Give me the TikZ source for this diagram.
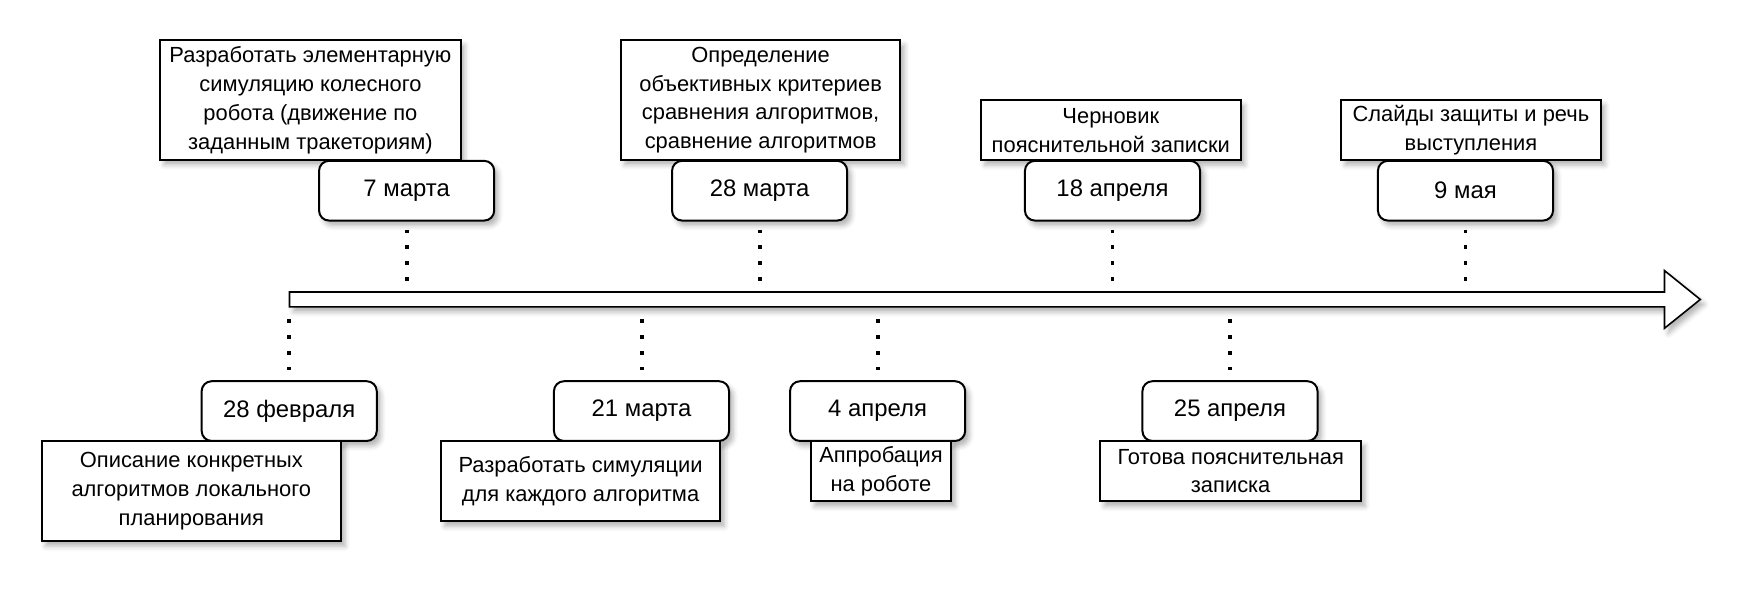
\documentclass[tikz,border=0pt]{standalone}
\usepackage{fontspec}
\setmainfont{Liberation Sans}
\usetikzlibrary{shadows.blur}
\begin{document}
\begin{tikzpicture}[x=0.5pt,y=-0.5pt,
  shad/.style={blur shadow={shadow xshift=2pt,shadow yshift=-2.5pt,shadow blur radius=2.5pt,shadow opacity=30}},
  task/.style={draw,line width=1pt,fill=white,align=center,inner sep=0pt,
    font=\fontsize{11}{14.5}\selectfont,shad},
  datebox/.style={draw,line width=1pt,rounded corners=5pt,fill=white,
    minimum width=88pt,minimum height=30pt,inner sep=0pt,
    font=\fontsize{12}{14}\selectfont,shad},
  dots/.style={line width=2pt,dash pattern=on 2pt off 6pt}]
\useasboundingbox (0,0) rectangle (1763,597);

% timeline arrow
\draw[line width=0.8pt,fill=white,shad] (291,293.5) -- (1673,293.5) -- (1673,272) -- (1709,301)
  -- (1673,330) -- (1673,308.5) -- (291,308.5) -- cycle;

% top tasks
\node[task,minimum width=151pt,minimum height=60pt] (t1) at (312,100.6)
  {Разработать элементарную\\симуляцию колесного\\робота (движение по\\заданным тракеториям)};
\node[task,minimum width=140.5pt,minimum height=60pt] (t2) at (764.5,100.6)
  {Определение\\объективных критериев\\сравнения алгоритмов,\\сравнение алгоритмов};
\node[task,minimum width=130.5pt,minimum height=30pt] (t3) at (1116.5,131)
  {Черновик\\пояснительной записки};
\node[task,minimum width=130.5pt,minimum height=30pt] (t4) at (1478.5,131)
  {Слайды защиты и речь\\выступления};

% top dates
\node[datebox] (d1) at (408.7,191.7) {7 марта};
\node[datebox] (d2) at (763.5,191.7) {28 марта};
\node[datebox] (d3) at (1118.2,191.7) {18 апреля};
\node[datebox] (d4) at (1473,191.7) {9 мая};

% bottom dates
\node[datebox] (b1) at (290.7,413.2) {28 февраля};
\node[datebox] (b2) at (644.8,413.2) {21 марта};
\node[datebox] (b3) at (882.1,413.2) {4 апреля};
\node[datebox] (b4) at (1236.3,413.2) {25 апреля};

% bottom tasks
\node[task,minimum width=150.5pt,minimum height=50.5pt] (u1) at (192.3,493.5)
  {Описание конкретных\\алгоритмов локального\\планирования};
\node[task,minimum width=140.5pt,minimum height=40.5pt] (u2) at (583.5,483.5)
  {Разработать симуляции\\для каждого алгоритма};
\node[task,minimum width=70.5pt,minimum height=30.5pt] (u3) at (885.5,473.5)
  {Аппробация\\на роботе};
\node[task,minimum width=131pt,minimum height=30.5pt] (u4) at (1237,473.5)
  {Готова пояснительная\\записка};

% anchor points on the arrow
\coordinate (a1) at (408.7,282);
\coordinate (a2) at (763.5,282);
\coordinate (a3) at (1118.2,282);
\coordinate (a4) at (1473,282);
\coordinate (c1) at (290.7,321);
\coordinate (c2) at (644.8,321);
\coordinate (c3) at (882.1,321);
\coordinate (c4) at (1236.3,321);

% dotted connectors
\foreach \d/\a in {d1/a1,d2/a2,d3/a3,d4/a4}
  \draw[dots] ([yshift=-4pt]\d.south) -- (\a);
\foreach \b/\c in {b1/c1,b2/c2,b3/c3,b4/c4}
  \draw[dots] (\c) -- ([yshift=5pt]\b.north);
\end{tikzpicture}
\end{document}
